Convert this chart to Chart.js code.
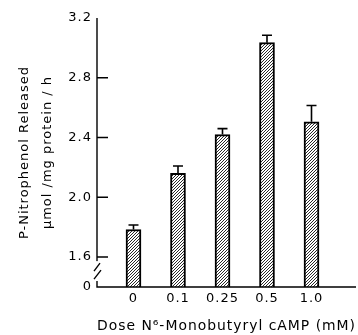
<!DOCTYPE html>
<html>
<head>
<meta charset="utf-8">
<script src="https://cdn.jsdelivr.net/npm/chart.js@4/dist/chart.umd.min.js"></script>
<style>
  html, body { margin: 0; padding: 0; background: #fff; }
  canvas { display: block; }
</style>
</head>
<body>
<canvas id="c" width="358" height="335"></canvas>
<script>
/* cAMP 用量別の p-ニトロフェノール遊離量: 斜線の棒グラフ+上側の誤差棒、y 軸は 0〜1.6 を省略 */

const DOSES = ["0", "0.1", "0.25", "0.5", "1.0"];
const MEANS = [1.785, 2.16, 2.42, 3.035, 2.505];
const ERRORS = [0.03, 0.05, 0.04, 0.05, 0.11];
const Y_TICKS = [1.4, 1.6, 2.0, 2.4, 2.8, 3.2];
const Y_TICK_LABELS = ["0", "1.6", "2.0", "2.4", "2.8", "3.2"];
const Y_MARKED = [1.6, 2.0, 2.4, 2.8]; // 内向きの目盛線を引く値

const ink = "#000";
const FONT = "'DejaVu Sans', sans-serif";

function hatch() {
  const s = 3;
  const c = document.createElement("canvas");
  c.width = s;
  c.height = s;
  const g = c.getContext("2d");
  g.fillStyle = "#fff";
  g.fillRect(0, 0, s, s);
  g.strokeStyle = "#111";
  g.lineWidth = 0.9;
  g.beginPath();
  g.moveTo(-1, 1); g.lineTo(1, -1);
  g.moveTo(0, s); g.lineTo(s, 0);
  g.moveTo(s - 1, s + 1); g.lineTo(s + 1, s - 1);
  g.stroke();
  return g.createPattern(c, "repeat");
}

// 文字間を少し広げる(元図の書体が横に広いため)
const spacingPlugin = {
  id: "spacing",
  beforeLayout(chart) { chart.ctx.letterSpacing = "1px"; },
  beforeDraw(chart) { chart.ctx.letterSpacing = "1px"; },
};

const errorPlugin = {
  id: "errBars",
  afterDatasetsDraw(chart) {
    const { ctx, scales: { x, y } } = chart;
    ctx.save();
    ctx.strokeStyle = ink;
    ctx.lineWidth = 1.6;
    MEANS.forEach((m, i) => {
      const px = x.getPixelForValue(i);
      const y0 = y.getPixelForValue(m);
      const y1 = y.getPixelForValue(m + ERRORS[i]);
      ctx.beginPath();
      ctx.moveTo(px, y0);
      ctx.lineTo(px, y1);
      ctx.moveTo(px - 5, y1);
      ctx.lineTo(px + 5, y1);
      ctx.stroke();
    });
    ctx.restore();
  },
};

// 軸線・内向き目盛・省略記号 //
const axisPlugin = {
  id: "axisMarks",
  afterDraw(chart) {
    const ctx = chart.ctx;
    const a = chart.chartArea;
    const ys = chart.scales.y;
    ctx.save();
    ctx.strokeStyle = ink;
    ctx.lineWidth = 1.4;
    ctx.beginPath();
    ctx.moveTo(a.left, a.top);
    ctx.lineTo(a.left, a.bottom);
    ctx.lineTo(a.right, a.bottom);
    ctx.stroke();
    ctx.lineWidth = 1.5;
    ctx.beginPath();
    Y_MARKED.forEach((v) => {
      const py = ys.getPixelForValue(v);
      ctx.moveTo(a.left, py);
      ctx.lineTo(a.left + 11, py);
    });
    ctx.stroke();
    const pb = ys.getPixelForValue(1.6);
    const p0 = ys.getPixelForValue(1.4);
    ctx.fillStyle = "#fff";
    ctx.fillRect(a.left - 3, pb + 4, 6, p0 - pb - 10);
    ctx.lineWidth = 1.4;
    ctx.beginPath();
    ctx.moveTo(a.left - 3, pb + 14);
    ctx.lineTo(a.left + 3, pb + 6);
    ctx.moveTo(a.left - 3, pb + 22);
    ctx.lineTo(a.left + 4, pb + 13);
    ctx.stroke();
    ctx.restore();
  },
};

new Chart(document.getElementById("c"), {
  type: "bar",
  data: {
    datasets: [
      {
        data: MEANS.map((v, i) => ({ x: i, y: v })),
        backgroundColor: hatch(),
        borderColor: ink,
        borderWidth: 2,
        borderSkipped: "bottom",
        barThickness: 15,
      },
    ],
  },
  options: {
    responsive: false,
    devicePixelRatio: 1,
    animation: false,
    layout: { padding: { top: 18, right: 2, left: 0, bottom: 0 } },
    plugins: { legend: { display: false }, tooltip: { enabled: false } },
    scales: {
      x: {
        type: "linear",
        offset: false,
        min: -0.82,
        max: 5.0,
        afterBuildTicks: (s) => { s.ticks = DOSES.map((_, i) => ({ value: i })); },
        afterFit: (s) => { s.height = 48; },
        ticks: {
          color: ink,
          font: { family: FONT, size: 13 },
          padding: 4,
          callback: (v) => DOSES[v] ?? "",
        },
        grid: { display: false, offset: false, drawTicks: false },
        border: { display: false },
        title: {
          display: true,
          text: "Dose N⁶-Monobutyryl cAMP (mM)",
          color: ink,
          font: { family: FONT, size: 14 },
          padding: { top: 9, bottom: 0 },
        },
      },
      y: {
        min: 1.4,
        max: 3.2,
        afterBuildTicks: (s) => { s.ticks = Y_TICKS.map((v) => ({ value: v })); },
        afterFit: (s) => { s.width = 97; },
        ticks: {
          color: ink,
          font: { family: FONT, size: 13 },
          padding: 5,
          callback: (v) => Y_TICK_LABELS[Y_TICKS.indexOf(v)] ?? "",
        },
        grid: { display: false, drawTicks: false },
        border: { display: false },
        title: {
          display: true,
          text: ["P-Nitrophenol Released", "μmol /mg protein / h"],
          color: ink,
          font: { family: FONT, size: 13, lineHeight: 1.7 },
          padding: { top: 14, bottom: 0 },
        },
      },
    },
  },
  plugins: [spacingPlugin, errorPlugin, axisPlugin],
});
</script>
</body>
</html>
